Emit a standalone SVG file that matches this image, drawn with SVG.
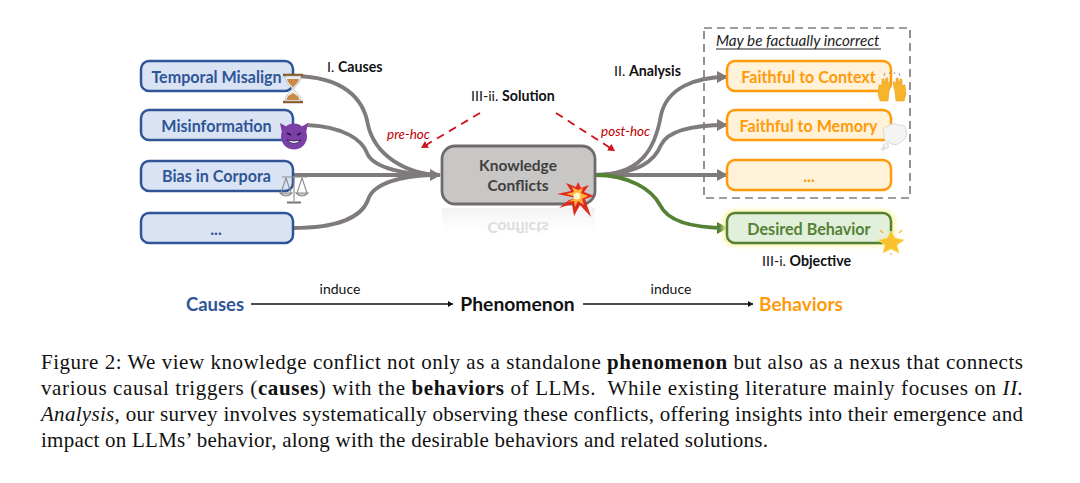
<svg xmlns="http://www.w3.org/2000/svg" width="1080" height="483" viewBox="0 0 1080 483">
<style>
text{font-family:Lato,"Open Sans","Liberation Sans",sans-serif}
.lbl{font-size:16.100px;font-weight:700;text-anchor:middle}
.blue rect{fill:#dae3f3;stroke:#2f5597;stroke-width:2.500}
.blue text{fill:#2f5597}
.or rect{fill:#fff2d9;stroke:#ff9a0a;stroke-width:2.500}
.or text{fill:#ff9a0a}
.cap{font-family:"Liberation Serif",serif;font-size:21px;fill:#111}
.sec{font-size:14.200px;fill:#111}
.sec tspan{font-weight:700}
.hoc{font-size:13.500px;font-style:italic;fill:#c00000}
.g{fill:none;stroke:#7f7b7b;stroke-width:3.800}
.red{fill:none;stroke:#d0101c;stroke-width:1.800;stroke-dasharray:8 6;marker-end:url(#rh)}
.bk{stroke:#111;stroke-width:1.700;fill:none;marker-end:url(#kh)}
</style>
<defs>
<marker id="gh" markerUnits="userSpaceOnUse" markerWidth="12" markerHeight="12" refX="10" refY="6" orient="auto"><path d="M0 0L11 6L0 12z" fill="#7f7b7b"/></marker>
<marker id="gr" markerUnits="userSpaceOnUse" markerWidth="12" markerHeight="12" refX="10" refY="6" orient="auto"><path d="M0 0L11 6L0 12z" fill="#548235"/></marker>
<marker id="rh" markerUnits="userSpaceOnUse" markerWidth="8" markerHeight="8" refX="7" refY="4" orient="auto"><path d="M0 0L7 4L0 8z" fill="#d0101c"/></marker>
<marker id="kh" markerUnits="userSpaceOnUse" markerWidth="6" markerHeight="6" refX="5" refY="3" orient="auto"><path d="M0 0L5 3L0 6z" fill="#111"/></marker>
<linearGradient id="fade" x1="0" y1="0" x2="0" y2="1"><stop offset="0" stop-color="#d9d9d9" stop-opacity=".8"/><stop offset="1" stop-color="#fff" stop-opacity="0"/></linearGradient>
<filter id="glow" x="-10%" y="-30%" width="120%" height="160%"><feGaussianBlur stdDeviation="2"/></filter>
</defs>

<g id="connectors">
<path class="g" d="M292 76C345 76 364 100 368 125C375 155 405 174 440 175"/>
<path class="g" d="M307 125C345 127 362 140 367 153C373 168 405 175 440 175"/>
<path class="g" d="M292 175H440" marker-end="url(#gh)"/>
<path class="g" d="M292 228C340 228 362 216 368 200C373 182 405 176 430 175"/>
<path class="g" d="M595 175C640 175 655 150 661 115C667 88 695 77 727 77" marker-end="url(#gh)"/>
<path class="g" d="M595 175C640 174 655 160 661 145C668 130 695 125 727 125" marker-end="url(#gh)"/>
<path class="g" d="M595 175H727" marker-end="url(#gh)"/>
<path d="M595 175C630 175 652 190 660 205C668 222 695 228 727 228" fill="none" stroke="#548235" stroke-width="3.800" marker-end="url(#gr)"/>
<path class="red" d="M480 113L421 148"/>
<path class="red" d="M556 113L615 151"/>
<path class="bk" d="M251 304H453"/>
<path class="bk" d="M583 304H753"/>
</g>

<g id="causes-box-1" class="blue"><rect x="141" y="61" width="152" height="30" rx="8"/><text class="lbl" x="216.500" y="83">Temporal Misalign</text></g>
<g id="causes-box-2" class="blue"><rect x="141" y="110" width="152" height="30" rx="8"/><text class="lbl" x="216.500" y="132">Misinformation</text></g>
<g id="causes-box-3" class="blue"><rect x="141" y="161" width="152" height="30" rx="8"/><text class="lbl" x="216.500" y="182">Bias in Corpora</text></g>
<g id="causes-box-4" class="blue"><rect x="141" y="213" width="152" height="30" rx="8"/><text class="lbl" x="216" y="235">...</text></g>

<g id="hourglass">
<path d="M283 75H303M283 102H303" stroke="#8a5a2b" stroke-width="2.500"/>
<path d="M285 76H301C301 84 294.500 86 294 89C294.500 92 301 94 301 101H285C285 94 291.500 92 292 89C291.500 86 285 84 285 76z" fill="#e8eef2" stroke="#a9a9a9" stroke-width=".6"/>
<path d="M287 79H299C298 84 294 85 293 88C292 85 288 84 287 79zM286.500 100C287 96 290 95 293 93C296 95 299 96 299.500 100z" fill="#c98a45"/>
</g>
<g id="devil">
<path d="M280 123L282 133L289 128zM308 123L306 133L299 128z" fill="#7d3aa8"/>
<circle cx="294" cy="136.500" r="13" fill="#7b3fa8"/>
<path d="M287 133L291 135M301 133L297 135" stroke="#2a1040" stroke-width="1.500"/>
<path d="M287 140Q294 147 301 140Q294 142 287 140z" fill="#fff" stroke="#2a1040" stroke-width=".8"/>
</g>
<g id="scales" fill="none" stroke="#8c8c8c" stroke-width="1.100">
<path d="M282 177H307M294 176V201"/>
<path d="M286 178L281 193M286 178L291 193M302 178L297 193M302 178L307 193"/>
<path d="M280 193Q286 199 292 193zM296 193Q302 199 308 193z" fill="#c9c9c9"/>
<path d="M287 202.500H301" stroke="#777" stroke-width="2"/>
</g>

<g id="knowledge-conflicts">
<rect x="442" y="208" width="153" height="32" fill="url(#fade)" opacity=".45"/>
<text x="518" y="-222" transform="scale(1 -1)" font-size="15.500" font-weight="700" text-anchor="middle" fill="#dcdcdc">Conflicts</text>
<rect x="442" y="146" width="153" height="58" rx="13" fill="#c9c6c6" stroke="#6f6b6b" stroke-width="2.800"/>
<text x="518" y="171" font-size="15.500" font-weight="700" text-anchor="middle" fill="#3f3f3f">Knowledge</text>
<text x="518" y="191" font-size="15.500" font-weight="700" text-anchor="middle" fill="#3f3f3f">Conflicts</text>
</g>
<g id="explosion">
<path d="M577 198L557 194L571 191L566 183L576 187L578 182L581 188L589 185L584 192L594 196L585 199L591 217L580 205L574 216L572 204L559 208L569 200z" fill="#e0281c"/>
<path d="M577 197L566 194L574 192L572 187L578 190L583 188L581 193L588 196L582 199L584 205L578 201L575 207L574 201L568 202z" fill="#ffb13b"/>
<circle cx="577" cy="196" r="3.500" fill="#fff6c8"/>
</g>

<text id="label-causes" class="sec" x="327" y="72">I. <tspan>Causes</tspan></text>
<text id="label-solution" class="sec" x="471" y="101">III-ii. <tspan>Solution</tspan></text>
<text id="label-analysis" class="sec" x="614" y="76">II. <tspan>Analysis</tspan></text>
<text id="label-objective" class="sec" x="762" y="266">III-i. <tspan>Objective</tspan></text>
<text id="label-prehoc" class="hoc" x="387" y="139">pre-hoc</text>
<text id="label-posthoc" class="hoc" x="601" y="136">post-hoc</text>

<g id="incorrect-frame">
<rect x="704" y="28" width="206" height="170" fill="none" stroke="#7f7f7f" stroke-width="1.700" stroke-dasharray="8 5"/>
<text x="716" y="46" font-size="15.200" font-style="italic" fill="#222">May be factually incorrect</text>
<path d="M716 49H881" stroke="#222" stroke-width="1"/>
</g>

<g id="behavior-context" class="or"><rect x="727" y="61" width="164" height="30" rx="8"/><text class="lbl" x="808.500" y="83">Faithful to Context</text></g>
<g id="behavior-memory" class="or"><rect x="727" y="110" width="164" height="30" rx="8"/><text class="lbl" x="808.500" y="132">Faithful to Memory</text></g>
<g id="behavior-more" class="or"><rect x="727" y="160" width="164" height="30" rx="8"/><text class="lbl" x="809" y="182">...</text></g>
<g id="behavior-desired">
<rect x="723" y="210" width="172" height="36" rx="10" fill="#fbf5a8" filter="url(#glow)"/>
<rect x="727" y="213" width="164" height="30" rx="8" fill="#e2efda" stroke="#548235" stroke-width="2.500"/>
<text class="lbl" x="809" y="235" fill="#548235">Desired Behavior</text>
</g>

<g id="hands" fill="#f7b52c" stroke="#e09a18" stroke-width=".5">
<path d="M878 94L879 85L882 85L882 79L884 79L884.500 84L886 78L888 78L888 84L890 81L891 83L889 92L888 101H880z"/>
<path d="M906 94L905 85L902 85L902 79L900 79L899.500 84L898 78L896 78L896 84L894 81L893 83L895 92L896 101H904z"/>
<path d="M884 76L885 73M889 74L890 72M895 74L894 72M900 76L899 73" stroke="#999" stroke-width="1" fill="none"/>
</g>
<g id="thought" fill="#f4f4f4" stroke="#cfcfcf" stroke-width=".8">
<path d="M884 134Q881 127 888 126Q892 122 898 125Q906 124 906 131Q908 138 902 141Q896 147 890 143Q883 142 884 134z"/>
<circle cx="886" cy="146" r="2.500"/><circle cx="883" cy="149" r="1.500"/>
</g>
<g id="star">
<path d="M891 231L895 238L904 240L897 245L899 253L891 249L883 253L885 245L878 240L887 238z" fill="#fbc02d" stroke="#f9e27a" stroke-width="1"/>
<path d="M880 230L883 233M902 230L899 233M891 255V253" stroke="#f7b52c" stroke-width="1.300"/>
</g>

<g id="legend">
<text x="215" y="311" font-size="18.500" font-weight="700" text-anchor="middle" fill="#2f5597">Causes</text>
<text x="340" y="294" font-size="14px" text-anchor="middle" fill="#111">induce</text>
<text x="517.500" y="311" font-size="19.300" font-weight="700" text-anchor="middle" fill="#111">Phenomenon</text>
<text x="671" y="294" font-size="14px" text-anchor="middle" fill="#111">induce</text>
<text x="801" y="311" font-size="19" font-weight="700" text-anchor="middle" fill="#ff9a0a">Behaviors</text>
</g>

<g id="caption">
<text class="cap" x="41" y="369" textLength="982">Figure 2: We view knowledge conflict not only as a standalone <tspan font-weight="700">phenomenon</tspan> but also as a nexus that connects</text>
<text class="cap" x="41" y="395" textLength="982">various causal triggers (<tspan font-weight="700">causes</tspan>) with the <tspan font-weight="700">behaviors</tspan> of LLMs.&#160; While existing literature mainly focuses on <tspan font-style="italic">II.</tspan></text>
<text class="cap" x="41" y="421" textLength="982"><tspan font-style="italic">Analysis</tspan>, our survey involves systematically observing these conflicts, offering insights into their emergence and</text>
<text class="cap" x="41" y="447" textLength="727">impact on LLMs’ behavior, along with the desirable behaviors and related solutions.</text>
</g>
</svg>
